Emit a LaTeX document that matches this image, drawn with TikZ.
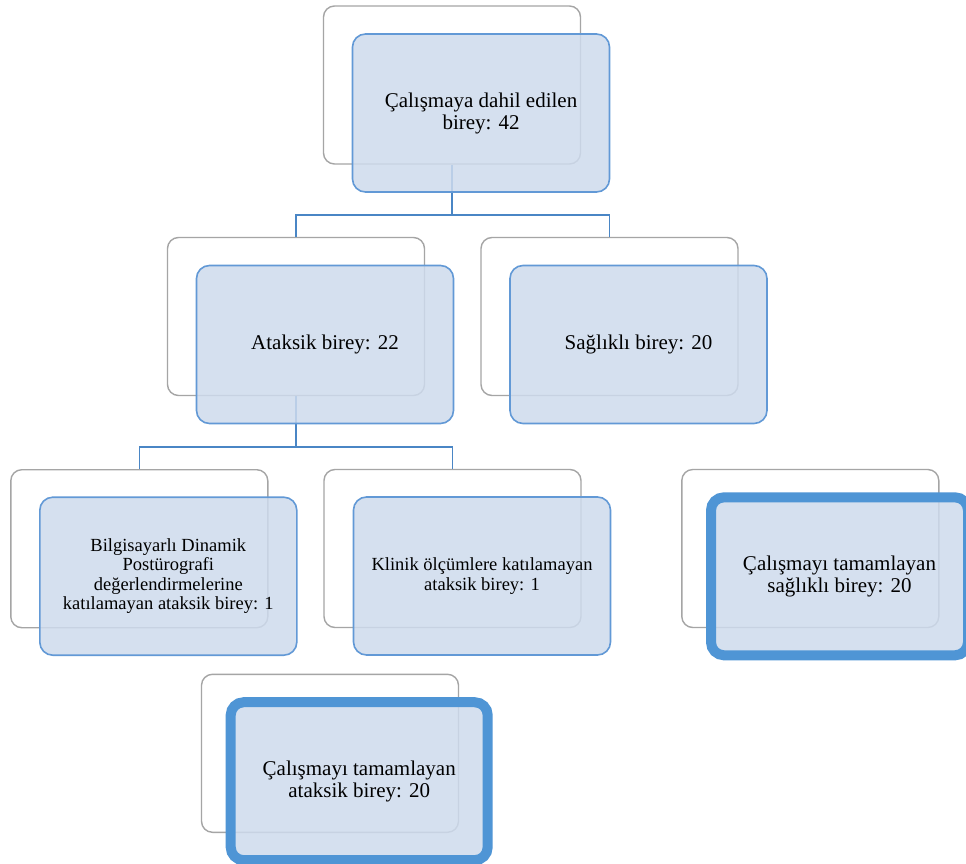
\documentclass[tikz,border=0pt]{standalone}
\usepackage{fontspec}
\setmainfont{Liberation Serif}
\definecolor{frontfill}{RGB}{206,219,237}
\definecolor{frontline}{RGB}{98,153,214}
\definecolor{thickline}{RGB}{79,149,213}
\definecolor{backline}{RGB}{165,165,165}
\definecolor{connline}{RGB}{74,134,197}
\tikzset{
  backbox/.style={draw=backline, line width=1.4pt, fill=white, rounded corners=11pt,
    minimum width=257pt, minimum height=158pt, inner sep=0pt},
  frontbox/.style={draw=frontline, line width=1.6pt, fill=frontfill, fill opacity=0.85,
    text opacity=1, draw opacity=1, rounded corners=13pt,
    minimum width=257pt, minimum height=158pt, inner sep=0pt, align=center,
    font=\fontsize{21}{22}\selectfont},
  smalltext/.style={font=\fontsize{18.5}{19.5}\selectfont},
  thickbox/.style={frontbox, draw=thickline, line width=10pt},
  conn/.style={draw=connline, line width=1.5pt},
}
\begin{document}
\begin{tikzpicture}[x=1pt,y=-1pt]
\useasboundingbox (0,0) rectangle (966,864);
\fill[white] (0,0) rectangle (966,864);
% back boxes
\node[backbox] (b1) at (452,85) {};
\node[backbox] (b2) at (296,316.5) {};
\node[backbox] (b3) at (609.5,316.5) {};
\node[backbox] (b4) at (139.3,548.7) {};
\node[backbox] (b5) at (452.5,548.5) {};
\node[backbox] (b6) at (810.3,548.5) {};
\node[backbox] (b7) at (330,753.3) {};
% connectors
\coordinate (j1) at (452,215);
\coordinate (j2) at (296,447);
\draw[conn] (b1.south) -- (j1);
\draw[conn] (b2.north) |- (j1) -| (b3.north);
\draw[conn] (b2.south) -- (j2);
\draw[conn] (b4.north) |- (j2) -| (b5.north);
% front boxes
\node[frontbox] (f1) at (481,113) {Çalışmaya dahil edilen\\birey: 42};
\node[frontbox] (f2) at (325,344.5) {Ataksik birey: 22};
\node[frontbox] (f3) at (638.5,344.5) {Sağlıklı birey: 20};
\node[frontbox, smalltext] (f4) at (168.3,576.2) {Bilgisayarlı Dinamik\\Postürografi\\değerlendirmelerine\\katılamayan ataksik birey: 1};
\node[frontbox, smalltext] (f5) at (482,576) {Klinik ölçümlere katılamayan\\ataksik birey: 1};
\node[thickbox] (f6) at (839.5,576.3) {Çalışmayı tamamlayan\\sağlıklı birey: 20};
\node[thickbox] (f7) at (359.2,781.2) {Çalışmayı tamamlayan\\ataksik birey: 20};
\end{tikzpicture}
\end{document}
